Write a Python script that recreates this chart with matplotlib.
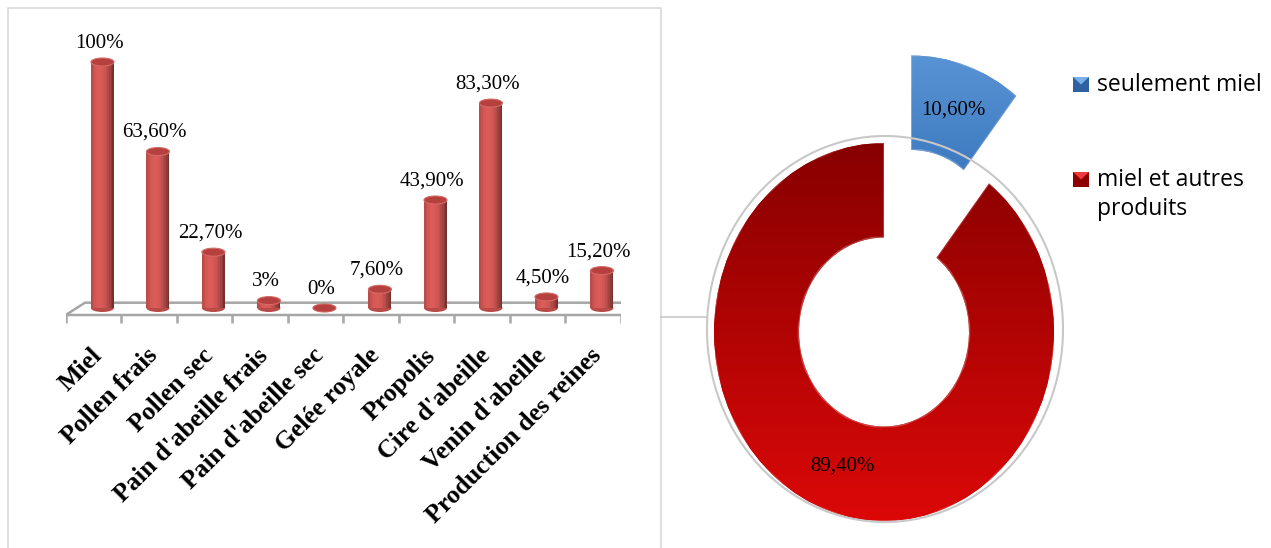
import numpy as np
import matplotlib.pyplot as plt
from matplotlib.patches import Ellipse, Polygon, Rectangle
from matplotlib.lines import Line2D

# data
categories = ["Miel", "Pollen frais", "Pollen sec", "Pain d'abeille frais",
              "Pain d'abeille sec", "Gelée royale", "Propolis", "Cire d'abeille",
              "Venin d'abeille", "Production des reines"]
values = [100, 63.6, 22.7, 3, 0, 7.6, 43.9, 83.3, 4.5, 15.2]
value_labels = ["100%", "63,60%", "22,70%", "3%", "0%", "7,60%", "43,90%",
                "83,30%", "4,50%", "15,20%"]

pie_labels = ["seulement miel", "miel et autres\nproduits"]
pie_values = [10.6, 89.4]

W, H = 1271, 548
SERIF = "Liberation Serif"

fig = plt.figure(figsize=(W / 100, H / 100), dpi=100)


def px_rect(x0, y0, x1, y1):
    # pixel box (top-left origin) -> figure fraction
    return [x0 / W, 1 - y1 / H, (x1 - x0) / W, (y1 - y0) / H]


def fx(x):
    return x / W


def fy(y):
    return 1 - y / H


# ---------------- donut (full figure axes, drawn first) ----------------
cx, cy, rx, ry = 884, 332, 170, 189
ax2 = fig.add_axes([0, 0, 1, 1])
wedges, texts, autotexts = ax2.pie(
    pie_values,
    startangle=90,
    counterclock=False,
    explode=[0.49, 0],
    radius=1,
    colors=["#4a86c8", "#c00000"],
    wedgeprops=dict(width=0.5, linewidth=0),
    autopct=lambda p: f"{p:.2f}%".replace(".", ","),
    pctdistance=0.75,
    textprops=dict(family=SERIF, fontsize=15, color="black"),
)
ax2.set_aspect("auto")
ax2.axis("off")

grads = [((88, 148, 212), (62, 122, 192)), ((135, 0, 0), (220, 8, 8))]
for w, (c_top, c_bot) in zip(wedges, grads):
    g = np.linspace(0, 1, 256)[:, None]
    img = np.zeros((256, 2, 3))
    for k in range(3):
        img[:, :, k] = (c_top[k] + (c_bot[k] - c_top[k]) * g) / 255
    bb = w.get_path().get_extents()
    im = ax2.imshow(img, extent=[bb.x0, bb.x1, bb.y0, bb.y1], origin="upper",
                    aspect="auto", zorder=2, interpolation="bilinear")
    im.set_clip_path(w)
    w.set_zorder(1)
    edge = Polygon(w.get_path().vertices, closed=True, fill=False,
                   edgecolor=(1, 1, 1, 0.25), linewidth=1.2, zorder=3)
    ax2.add_patch(edge)
for t in autotexts:
    t.set_zorder(5)
ax2.set_xlim((0 - cx) / rx, (W - cx) / rx)
ax2.set_ylim((cy - H) / ry, cy / ry)

ax2.add_patch(Ellipse(((885 - cx) / rx, (cy - 329) / ry), 2 * 178 / rx, 2 * 193 / ry,
                      fill=False, edgecolor="#c8c8c8", linewidth=1.5, zorder=4))

# legend with bevelled markers
leg_cols = [("#2f609f", "#78b0ea"), ("#8e0000", "#ee3a3a")]
leg_y = [77, 172]
for lab, (dark, light), y in zip(pie_labels, leg_cols, leg_y):
    x0, x1, y1 = fx(1073), fx(1089), fy(y)
    y0b = fy(y + 15)
    fig.add_artist(Rectangle((x0, y0b), x1 - x0, y1 - y0b,
                             transform=fig.transFigure, facecolor=dark,
                             edgecolor="none"))
    fig.add_artist(Polygon([(x0, y1), (x1, y1), ((x0 + x1) / 2, (y0b + y1) / 2)],
                           closed=True, transform=fig.transFigure,
                           facecolor=light, edgecolor="none"))
    for j, line in enumerate(lab.split("\n")):
        fig.text(fx(1097), fy(y + 14 + 29 * j), line, ha="left", va="baseline",
                 family="Open Sans", fontsize=16.5, color="black")

# ---------------- bar chart ----------------
sx = 55.5      # px per category
sy = 2.46      # px per percent
y0 = 308       # pixel of value 0
ax = fig.add_axes(px_rect(65.7, 0, 65.7 + 10 * sx, H))
ax.set_xlim(-0.5, 9.5)
ax.set_ylim((y0 - H) / sy, y0 / sy)
ax.axis("off")

fy0 = -(315 - y0) / sy
by0 = -(302.7 - y0) / sy
floor = Polygon([(-0.5, fy0), (-0.5 + 10.04, fy0), (9.88, by0), (-0.153, by0)],
                closed=True, facecolor="white", edgecolor="#a6a6a6",
                linewidth=1.8, zorder=1)
ax.add_patch(floor)
xt = np.arange(11) - 0.5
ax.vlines(xt, fy0, -(322.7 - y0) / sy, color="#a6a6a6", linewidth=1.8, zorder=1)

x = np.arange(len(categories))
dx = 9 / sx
bw = 23 / sx
eh = 8 / sy
base = np.array([192, 80, 77]) / 255
n = 14
edges = np.linspace(-1, 1, n + 1)
mids = (edges[:-1] + edges[1:]) / 2
for i in range(len(categories)):
    ax.add_patch(Ellipse((x[i] + dx, 0), bw, eh, facecolor="#b84a47",
                         edgecolor="none", zorder=2))
for t in mids:
    shade = np.clip(base * (1.14 - 0.38 * (t + 0.25) ** 2), 0, 1)
    ax.bar(x + dx + t * bw / 2, values, width=bw / n * 1.05, color=shade,
           linewidth=0, zorder=3)
for i, v in enumerate(values):
    ax.add_patch(Ellipse((x[i] + dx, v), bw, eh, facecolor="#b5403d",
                         edgecolor="#d46a66", linewidth=0.8, zorder=4))
    ax.text(x[i] + dx - 0.06, v + 19 / sy, value_labels[i], ha="center",
            va="center", family=SERIF, fontsize=15, zorder=5)

for i, cat in enumerate(categories):
    ax.text(x[i] + 0.09, -(352 - y0) / sy, cat, rotation=45, ha="right",
            va="center", rotation_mode="anchor", family=SERIF,
            fontweight="bold", fontsize=18.5)

# frame of the left chart and connector line
fig.add_artist(Rectangle((fx(8), fy(560)), (661 - 8) / W, (560 - 8) / H,
                         transform=fig.transFigure, fill=False,
                         edgecolor="#d9d9d9", linewidth=1.2))
fig.add_artist(Line2D([fx(661), fx(707)], [fy(316.7), fy(316.7)],
                      transform=fig.transFigure, color="#c8c8c8", linewidth=1.2))

fig.savefig("out.png", dpi=100, facecolor="white")
